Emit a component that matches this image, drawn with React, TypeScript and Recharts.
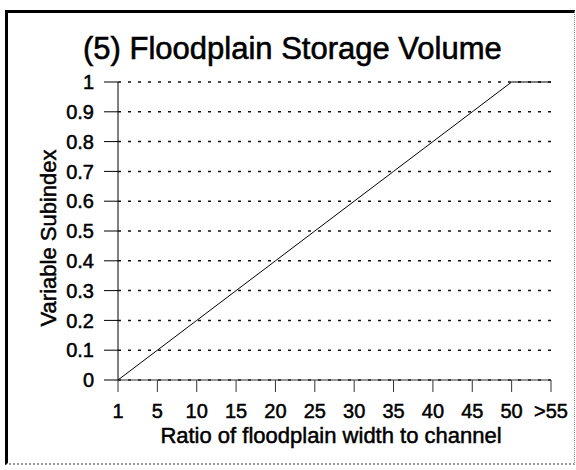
import { LineChart, Line, XAxis, YAxis, CartesianGrid } from "recharts";

const RATIOS = ["1", "5", "10", "15", "20", "25", "30", "35", "40", "45", "50", ">55"];
const SUBINDEX = [0, 0.1, 0.2, 0.3, 0.4, 0.5, 0.6, 0.7, 0.8, 0.9, 1, 1];
const Y_TICKS = [0, 0.1, 0.2, 0.3, 0.4, 0.5, 0.6, 0.7, 0.8, 0.9, 1];

const data = RATIOS.map((ratio, i) => ({ ratio, value: SUBINDEX[i] }));

const FONT = "'Liberation Sans', Arial, sans-serif";
// the scanned original looks a bit heavier than plain regular weight
const heavy = { fill: "#000", stroke: "#000", strokeWidth: 0.5, fontFamily: FONT };

export default function App() {
  return (
    <div style={{ position: "relative", width: 576, height: 470, background: "#fff", fontFamily: FONT }}>
      <style>{`body{margin:0}`}</style>

      <div
        style={{
          position: "absolute",
          left: 5,
          top: 10,
          width: 566,
          height: 450,
          borderTop: "3px solid #000",
          borderLeft: "3px solid #000",
          borderRight: "1px dotted #888",
          borderBottom: "2px dotted #999",
          pointerEvents: "none",
        }}
      />

      <div
        style={{
          position: "absolute",
          left: 83,
          top: 33,
          fontSize: 31,
          lineHeight: "31px",
          whiteSpace: "nowrap",
          color: "#000",
          WebkitTextStroke: "0.6px #000",
        }}
      >
        (5) Floodplain Storage Volume
      </div>

      <LineChart
        width={576}
        height={470}
        data={data}
        margin={{ top: 82, right: 25, left: 58, bottom: 30 }}
      >
        <CartesianGrid
          vertical={false}
          stroke="#111"
          strokeWidth={1.5}
          strokeDasharray="3 7"
        />
        <XAxis
          dataKey="ratio"
          height={60}
          padding={{ left: 0, right: 0 }}
          interval={0}
          axisLine={{ stroke: "#333" }}
          tickLine={{ stroke: "#333" }}
          tickSize={12}
          tickMargin={12}
          tick={{ ...heavy, fontSize: 20 }}
          label={{
            content: () => (
              <text x={331} y={443} textAnchor="middle" fontSize={22} {...heavy}>
                Ratio of floodplain width to channel
              </text>
            ),
          }}
        />
        <YAxis
          width={60}
          domain={[0, 1]}
          ticks={Y_TICKS}
          interval={0}
          axisLine={{ stroke: "#000" }}
          tickLine={{ stroke: "#000" }}
          tickSize={14}
          tickMargin={10}
          tick={{ ...heavy, fontSize: 20 }}
          label={{
            content: () => (
              <text
                x={48}
                y={238}
                transform="rotate(-90 48 238)"
                textAnchor="middle"
                dominantBaseline="central"
                fontSize={22}
                {...heavy}
              >
                Variable Subindex
              </text>
            ),
          }}
        />
        <Line
          type="linear"
          dataKey="value"
          stroke="#000"
          strokeWidth={1}
          dot={false}
          activeDot={false}
          isAnimationActive={false}
        />
      </LineChart>
    </div>
  );
}
